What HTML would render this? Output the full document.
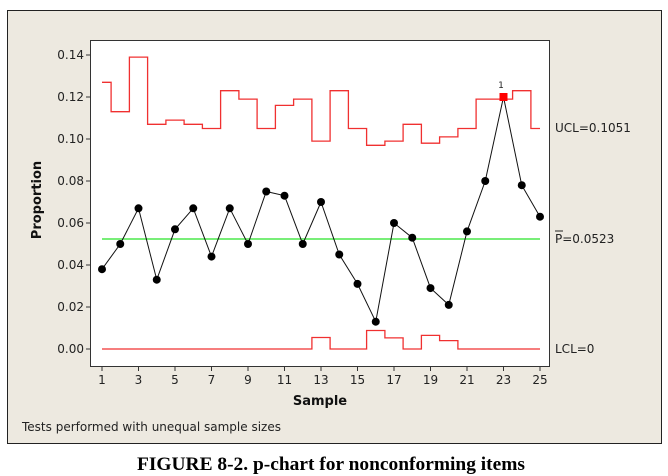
<!DOCTYPE html>
<html><head><meta charset="utf-8"><style>
html,body{margin:0;padding:0;background:#fff;width:668px;height:476px;overflow:hidden}
</style></head><body>
<svg width="668" height="476" xmlns="http://www.w3.org/2000/svg" font-family="'DejaVu Sans','Liberation Sans',sans-serif">
<rect x="7.5" y="10.5" width="654" height="433" fill="#ede9e0" stroke="#222" stroke-width="1"/>
<rect x="90.5" y="40.5" width="459" height="326" fill="#fff" stroke="#333" stroke-width="1"/>
<g stroke="#333" stroke-width="1">
<line x1="86" y1="55" x2="90" y2="55"/><line x1="86" y1="97" x2="90" y2="97"/><line x1="86" y1="139" x2="90" y2="139"/><line x1="86" y1="181" x2="90" y2="181"/><line x1="86" y1="223" x2="90" y2="223"/><line x1="86" y1="265" x2="90" y2="265"/><line x1="86" y1="307" x2="90" y2="307"/><line x1="86" y1="349" x2="90" y2="349"/>
<line x1="102" y1="367" x2="102" y2="371"/><line x1="138.5" y1="367" x2="138.5" y2="371"/><line x1="175" y1="367" x2="175" y2="371"/><line x1="211.5" y1="367" x2="211.5" y2="371"/><line x1="248" y1="367" x2="248" y2="371"/><line x1="284.5" y1="367" x2="284.5" y2="371"/><line x1="321" y1="367" x2="321" y2="371"/><line x1="357.5" y1="367" x2="357.5" y2="371"/><line x1="394" y1="367" x2="394" y2="371"/><line x1="430.5" y1="367" x2="430.5" y2="371"/><line x1="467" y1="367" x2="467" y2="371"/><line x1="503.5" y1="367" x2="503.5" y2="371"/><line x1="540" y1="367" x2="540" y2="371"/>
</g>
<g font-size="12" fill="#222" text-anchor="end">
<text x="84" y="59">0.14</text><text x="84" y="101">0.12</text><text x="84" y="143">0.10</text><text x="84" y="185">0.08</text><text x="84" y="227">0.06</text><text x="84" y="269">0.04</text><text x="84" y="311">0.02</text><text x="84" y="353">0.00</text>
</g>
<g font-size="12" fill="#222" text-anchor="middle">
<text x="102" y="384">1</text><text x="138.5" y="384">3</text><text x="175" y="384">5</text><text x="211.5" y="384">7</text><text x="248" y="384">9</text><text x="284.5" y="384">11</text><text x="321" y="384">13</text><text x="357.5" y="384">15</text><text x="394" y="384">17</text><text x="430.5" y="384">19</text><text x="467" y="384">21</text><text x="503.5" y="384">23</text><text x="540" y="384">25</text>
</g>
<text x="320" y="405" font-size="13" font-weight="bold" text-anchor="middle" fill="#111">Sample</text>
<text transform="translate(41,200) rotate(-90)" font-size="13" font-weight="bold" text-anchor="middle" fill="#111">Proportion</text>
<text x="22" y="431" font-size="12" fill="#222">Tests performed with unequal sample sizes</text>
<line x1="102" y1="239" x2="540" y2="239" stroke="#4ce84c" stroke-width="1.5"/>
<path d="M102 82.3 H111.1 V111.7 H129.4 V57.1 H147.6 V124.3 H165.9 V120.1 H184.1 V124.3 H202.4 V128.5 H220.6 V90.7 H238.9 V99.1 H257.1 V128.5 H275.4 V105.4 H293.6 V99.1 H311.9 V141.1 H330.1 V90.7 H348.4 V128.5 H366.6 V145.3 H384.9 V141.1 H403.1 V124.3 H421.4 V143.2 H439.6 V136.9 H457.9 V128.5 H476.1 V99.1 H494.4 V99.1 H512.6 V90.7 H530.9 V128.5 H540" fill="none" stroke="#f03030" stroke-width="1.3"/>
<path d="M102 349 H311.9 V337.5 H330.1 V349 H366.6 V330.5 H384.9 V337.9 H403.1 V349 H421.4 V335.4 H439.6 V340.6 H457.9 V349 H540" fill="none" stroke="#f03030" stroke-width="1.3"/>
<polyline points="102,269.2 120.25,244 138.5,208.3 156.75,279.7 175,229.3 193.25,208.3 211.5,256.6 229.75,208.3 248,244 266.25,191.5 284.5,195.7 302.75,244 321,202 339.25,254.5 357.5,283.9 375.75,321.7 394,223 412.25,237.7 430.5,288.1 448.75,304.9 467,231.4 485.25,181 503.5,97 521.75,185.2 540,216.7" fill="none" stroke="#111" stroke-width="1"/>
<g fill="#000">
<circle cx="102" cy="269.2" r="4"/><circle cx="120.25" cy="244" r="4"/><circle cx="138.5" cy="208.3" r="4"/><circle cx="156.75" cy="279.7" r="4"/><circle cx="175" cy="229.3" r="4"/><circle cx="193.25" cy="208.3" r="4"/><circle cx="211.5" cy="256.6" r="4"/><circle cx="229.75" cy="208.3" r="4"/><circle cx="248" cy="244" r="4"/><circle cx="266.25" cy="191.5" r="4"/><circle cx="284.5" cy="195.7" r="4"/><circle cx="302.75" cy="244" r="4"/><circle cx="321" cy="202" r="4"/><circle cx="339.25" cy="254.5" r="4"/><circle cx="357.5" cy="283.9" r="4"/><circle cx="375.75" cy="321.7" r="4"/><circle cx="394" cy="223" r="4"/><circle cx="412.25" cy="237.7" r="4"/><circle cx="430.5" cy="288.1" r="4"/><circle cx="448.75" cy="304.9" r="4"/><circle cx="467" cy="231.4" r="4"/><circle cx="485.25" cy="181" r="4"/><circle cx="521.75" cy="185.2" r="4"/><circle cx="540" cy="216.7" r="4"/>
</g>
<rect x="499.5" y="93" width="8" height="8" fill="#f00"/>
<text x="501" y="88" font-size="9" text-anchor="middle" fill="#222">1</text>
<g font-size="12" fill="#222">
<text x="555" y="132">UCL=0.1051</text>
<text x="555" y="243">P=0.0523</text>
<line x1="555" y1="231" x2="563" y2="231" stroke="#222" stroke-width="1"/>
<text x="555" y="353">LCL=0</text>
</g>
<text x="331" y="470" font-family="'Liberation Serif',serif" font-size="19" font-weight="bold" text-anchor="middle" fill="#000" textLength="388" lengthAdjust="spacingAndGlyphs">FIGURE 8-2.  p-chart for nonconforming items</text>
</svg>
</body></html>
